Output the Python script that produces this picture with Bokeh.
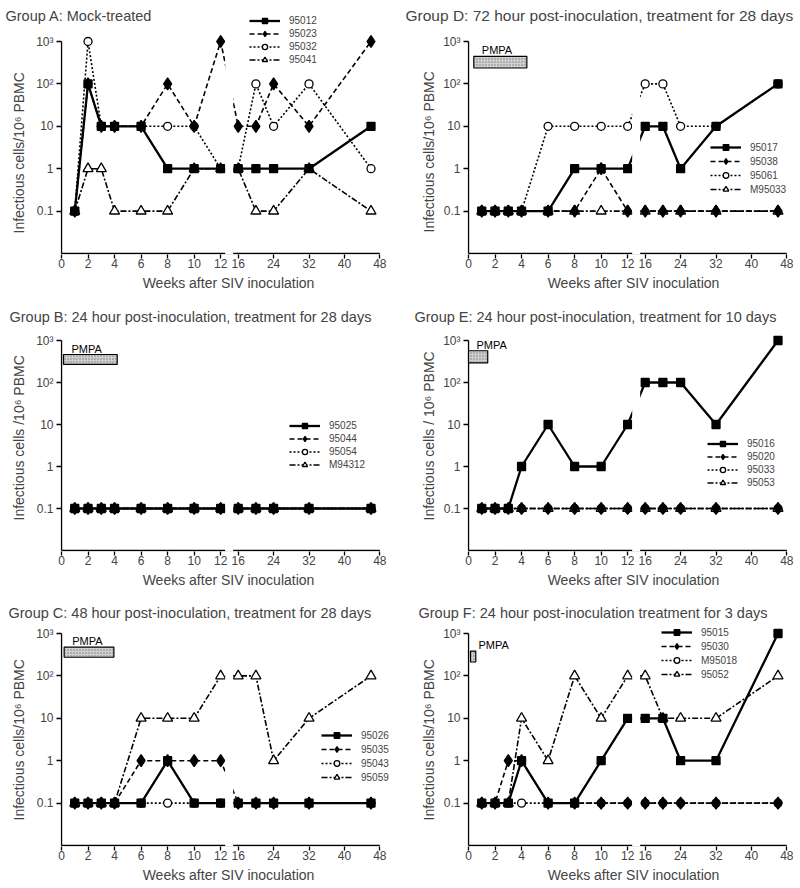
import numpy as np
from bokeh.plotting import figure
from bokeh.layouts import column, row
from bokeh.models import (ColumnDataSource, LinearInterpolator, FixedTicker, Legend,
                          LegendItem, BoxAnnotation, Range1d, Title)
from bokeh.transform import transform
from bokeh.core.properties import value
from bokeh.embed import file_html
from bokeh.resources import INLINE

# ---------------- data ----------------
WEEKS = [1, 2, 3, 4, 6, 8, 10, 12, 16, 20, 24, 32, 46]
X_TICKS = [0, 2, 4, 6, 8, 10, 12, 16, 24, 32, 40, 48]
Y_TICKS = [0.1, 1, 10, 100, 1000]
Y_TICK_LABELS = ["0.1", "1", "10", "10²", "10³"]
X_LABEL = "Weeks after SIV inoculation"

A_TITLE = "Group A: Mock-treated"
A_YLABEL = "Infectious cells/10⁶ PBMC"
A_IDS = ["95012", "95023", "95032", "95041"]
A_S1 = [0.1, 100, 10, 10, 10, 1, 1, 1, 1, 1, 1, 1, 10]
A_S2 = [0.1, 100, 10, 10, 10, 100, 10, 1000, 10, 10, 100, 10, 1000]
A_S3 = [0.1, 1000, 10, 10, 10, 10, 10, 1, 1, 100, 10, 100, 1]
A_S4 = [0.1, 1, 1, 0.1, 0.1, 0.1, 1, 1, 1, 0.1, 0.1, 1, 0.1]

B_TITLE = "Group B: 24 hour post-inoculation, treatment for 28 days"
B_YLABEL = "Infectious cells /10⁶ PBMC"
B_IDS = ["95025", "95044", "95054", "M94312"]
B_S1 = [0.1, 0.1, 0.1, 0.1, 0.1, 0.1, 0.1, 0.1, 0.1, 0.1, 0.1, 0.1, 0.1]
B_S2 = [0.1, 0.1, 0.1, 0.1, 0.1, 0.1, 0.1, 0.1, 0.1, 0.1, 0.1, 0.1, 0.1]
B_S3 = [0.1, 0.1, 0.1, 0.1, 0.1, 0.1, 0.1, 0.1, 0.1, 0.1, 0.1, 0.1, 0.1]
B_S4 = [0.1, 0.1, 0.1, 0.1, 0.1, 0.1, 0.1, 0.1, 0.1, 0.1, 0.1, 0.1, 0.1]
B_PMPA_WEEKS = [0.15, 4.2]
B_PMPA_VALUES = [269, 464]

C_TITLE = "Group C: 48 hour post-inoculation, treatment for 28 days"
C_YLABEL = "Infectious cells/10⁶ PBMC"
C_IDS = ["95026", "95035", "95043", "95059"]
C_S1 = [0.1, 0.1, 0.1, 0.1, 0.1, 1, 0.1, 0.1, 0.1, 0.1, 0.1, 0.1, 0.1]
C_S2 = [0.1, 0.1, 0.1, 0.1, 1, 1, 1, 1, 0.1, 0.1, 0.1, 0.1, 0.1]
C_S3 = [0.1, 0.1, 0.1, 0.1, 0.1, 0.1, 0.1, 0.1, 0.1, 0.1, 0.1, 0.1, 0.1]
C_S4 = [0.1, 0.1, 0.1, 0.1, 10, 10, 10, 100, 100, 100, 1, 10, 100]
C_PMPA_WEEKS = [0.2, 3.95]
C_PMPA_VALUES = [275, 475]

D_TITLE = "Group D: 72 hour post-inoculation, treatment for 28 days"
D_YLABEL = "Infectious cells/10⁶ PBMC"
D_IDS = ["95017", "95038", "95061", "M95033"]
D_S1 = [0.1, 0.1, 0.1, 0.1, 0.1, 1, 1, 1, 10, 10, 1, 10, 100]
D_S2 = [0.1, 0.1, 0.1, 0.1, 0.1, 0.1, 1, 0.1, 0.1, 0.1, 0.1, 0.1, 0.1]
D_S3 = [0.1, 0.1, 0.1, 0.1, 10, 10, 10, 10, 100, 100, 10, 10, 100]
D_S4 = [0.1, 0.1, 0.1, 0.1, 0.1, 0.1, 0.1, 0.1, 0.1, 0.1, 0.1, 0.1, 0.1]
D_PMPA_WEEKS = [0.4, 4.4]
D_PMPA_VALUES = [237, 446]

E_TITLE = "Group E:  24 hour post-inoculation, treatment for 10 days"
E_YLABEL = "Infectious cells / 10⁶ PBMC"
E_IDS = ["95016", "95020", "95033", "95053"]
E_S1 = [0.1, 0.1, 0.1, 1, 10, 1, 1, 10, 100, 100, 100, 10, 1000]
E_S2 = [0.1, 0.1, 0.1, 0.1, 0.1, 0.1, 0.1, 0.1, 0.1, 0.1, 0.1, 0.1, 0.1]
E_S3 = [0.1, 0.1, 0.1, 0.1, 0.1, 0.1, 0.1, 0.1, 0.1, 0.1, 0.1, 0.1, 0.1]
E_S4 = [0.1, 0.1, 0.1, 0.1, 0.1, 0.1, 0.1, 0.1, 0.1, 0.1, 0.1, 0.1, 0.1]
E_PMPA_WEEKS = [0.0, 1.45]
E_PMPA_VALUES = [293, 570]

F_TITLE = "Group F: 24 hour post-inoculation treatment for 3 days"
F_YLABEL = "Infectious cells/10⁶ PBMC"
F_IDS = ["95015", "95030", "M95018", "95052"]
F_S1 = [0.1, 0.1, 0.1, 1, 0.1, 0.1, 1, 10, 10, 10, 1, 1, 1000]
F_S2 = [0.1, 0.1, 1, 1, 0.1, 0.1, 0.1, 0.1, 0.1, 0.1, 0.1, 0.1, 0.1]
F_S3 = [0.1, 0.1, 0.1, 0.1, 0.1, 0.1, 0.1, 0.1, 0.1, 0.1, 0.1, 0.1, 0.1]
F_S4 = [0.1, 0.1, 0.1, 10, 1, 100, 10, 100, 100, 10, 10, 10, 100]
F_PMPA_WEEKS = [0.15, 0.55]
F_PMPA_VALUES = [213, 385]

PMPA_LABEL = "PMPA"

# ---------------- broken-axis scale (weeks -> axis units) ----------------
BREAK_WEEKS = [0, 12, 16, 48]
BREAK_AXIS = [0, 12, 13.32, 24.0]
PX_PER_UNIT = 13.265
GAP = (12.34, 12.94)
GAP_TOP = 1500
AXIS_WEEKS = (0, 48)
AXIS_VALUES = (0.01, 1000)

FONT = "Liberation Sans"

STYLES = [
    dict(marker="square", size=8, fill="black", dash="solid", lw=2.3),
    dict(marker="diamond", size=12, fill="black", dash="5 3", lw=1.6),
    dict(marker="circle", size=8, fill="white", dash="2 2", lw=1.6),
    dict(marker="triangle", size=10, fill="white", dash="6 2 2 2", lw=1.6),
]

# layout per row: figure height, frame top, pixel of 1000, pixel of 0.01
ROW_H = [297, 294, 297]
ROW_FRAME_TOP = [15, 19, 20]
ROW_P1000 = [41, 43, 42]      # relative to the row top
ROW_P001 = [253, 253, 254]
TITLE_STANDOFF = [-17, -16, -18]
COL_BORDER_LEFT = [60, 67]
COL_BORDER_RIGHT = [4, 1]
YLABEL_STANDOFF = [13, 7]


def make_panel(title, title_size, title_offset, ylabel, ylabel_offset, ids, series,
               pmpa_weeks, pmpa_values, col, r, legend_xy, legend_row):
    interp = LinearInterpolator(x=BREAK_WEEKS, y=BREAK_AXIS, clip=False)
    decade = (ROW_P001[r] - ROW_P1000[r]) / 5.0
    y_end = 10 ** (3 + (ROW_P1000[r] - ROW_FRAME_TOP[r]) / decade)
    y_start = 10 ** (-2 - 1.0 / decade)
    frame_bottom = ROW_P001[r] + 1
    border_bottom = ROW_H[r] - frame_bottom
    frame_w = 400 - COL_BORDER_LEFT[col] - COL_BORDER_RIGHT[col]
    x_start = -1.0 / PX_PER_UNIT
    x_end = x_start + frame_w / PX_PER_UNIT

    p = figure(width=400, height=ROW_H[r],
               x_range=Range1d(x_start, x_end),
               y_range=Range1d(y_start, y_end), y_axis_type="log",
               output_backend="svg", toolbar_location=None,
               min_border_left=COL_BORDER_LEFT[col],
               min_border_right=COL_BORDER_RIGHT[col],
               min_border_top=ROW_FRAME_TOP[r], min_border_bottom=border_bottom)
    p.xgrid.visible = False
    p.ygrid.visible = False
    p.outline_line_color = None
    p.background_fill_color = "white"
    p.border_fill_color = "white"

    p.title.text = title
    p.title.text_font = FONT
    p.title.text_font_size = title_size
    p.title.text_font_style = "normal"
    p.title.align = "left"
    p.title.offset = title_offset
    p.title.standoff = TITLE_STANDOFF[r]

    # y label as a side title so that it can be placed freely
    p.add_layout(Title(text=ylabel, align="left", offset=ylabel_offset,
                       standoff=YLABEL_STANDOFF[col], text_font=FONT,
                       text_font_size="14px", text_font_style="normal"), "left")

    # x axis
    tick_pos = [round(float(v), 4) for v in np.interp(X_TICKS, BREAK_WEEKS, BREAK_AXIS)]
    xa = p.xaxis[0]
    xa.ticker = FixedTicker(ticks=tick_pos)
    xa.major_label_overrides = {pos: str(w) for pos, w in zip(tick_pos, X_TICKS)}
    xa.axis_line_color = None
    xa.major_tick_out = 4
    xa.major_tick_in = 0
    xa.major_tick_line_width = 1.3
    xa.minor_tick_line_color = None
    xa.major_label_text_font = FONT
    xa.major_label_text_font_size = "12px"
    xa.major_label_standoff = 0
    xa.axis_label = X_LABEL
    xa.axis_label_text_font = FONT
    xa.axis_label_text_font_size = "14px"
    xa.axis_label_text_font_style = "normal"
    xa.axis_label_standoff = 4

    # y axis
    ya = p.yaxis[0]
    ya.ticker = FixedTicker(ticks=Y_TICKS)
    ya.major_label_overrides = {t: l for t, l in zip(Y_TICKS, Y_TICK_LABELS)}
    ya.axis_line_color = None
    ya.major_tick_out = 4
    ya.major_tick_in = 1
    ya.major_tick_line_width = 1.3
    ya.minor_tick_line_color = None
    ya.major_label_text_font = FONT
    ya.major_label_text_font_size = "12px"
    ya.major_label_standoff = 3

    # drawn axis lines (so that the x axis can be broken)
    axis_src = ColumnDataSource(dict(
        x0=[AXIS_WEEKS[0], AXIS_WEEKS[0]], x1=[AXIS_WEEKS[1], AXIS_WEEKS[0]],
        y0=[AXIS_VALUES[0], AXIS_VALUES[0]], y1=[AXIS_VALUES[0], AXIS_VALUES[1]]))
    p.segment(x0=transform("x0", interp), x1=transform("x1", interp),
              y0="y0", y1="y1", source=axis_src, line_color="black", line_width=1.4)

    # PMPA treatment bar
    if pmpa_weeks is not None:
        bar_src = ColumnDataSource(dict(l=[pmpa_weeks[0]], r=[pmpa_weeks[1]],
                                        b=[pmpa_values[0]], t=[pmpa_values[1]],
                                        label=[PMPA_LABEL]))
        p.quad(left=transform("l", interp), right=transform("r", interp),
               bottom="b", top="t", source=bar_src,
               fill_color="#d0d0d0", line_color="black", line_width=1.2,
               hatch_pattern="dot", hatch_color="#6f6f6f", hatch_scale=3, hatch_alpha=0.9)
        p.text(x=transform("l", interp), y="t", text="label", source=bar_src,
               text_font=value(FONT), text_font_size="11px", text_color="black",
               text_baseline="bottom", x_offset=8, y_offset=0)

    src = ColumnDataSource(dict(w=WEEKS, s0=series[0], s1=series[1],
                                s2=series[2], s3=series[3]))
    line_r = {}
    for i in [3, 2, 1, 0]:
        st = STYLES[i]
        line_r[i] = p.line(x=transform("w", interp), y="s%d" % i, source=src,
                           line_color="black", line_width=st["lw"],
                           line_dash=st["dash"])
    # break gap mask
    p.add_layout(BoxAnnotation(left=GAP[0], right=GAP[1], top=GAP_TOP, fill_color="white",
                               fill_alpha=1.0, line_color=None, level="glyph"))
    mark_r = {}
    for i in [2, 3, 1, 0]:
        st = STYLES[i]
        mark_r[i] = p.scatter(x=transform("w", interp), y="s%d" % i, source=src,
                              marker=st["marker"], size=st["size"],
                              fill_color=st["fill"], line_color="black",
                              line_width=1.3)

    items = [LegendItem(label=ids[i], renderers=[line_r[i], mark_r[i]]) for i in range(4)]
    leg = Legend(items=items, location=legend_xy, padding=0, margin=0, spacing=0,
                 glyph_width=31, glyph_height=legend_row, label_height=legend_row,
                 label_standoff=9, label_text_font=FONT, label_text_font_size="10px",
                 border_line_color=None, background_fill_alpha=0)
    p.add_layout(leg)
    return p


pA = make_panel(A_TITLE, "14.5px", -55, A_YLABEL, 21, A_IDS, [A_S1, A_S2, A_S3, A_S4],
                None, None, 0, 0, (189, 188), 13)
pD = make_panel(D_TITLE, "15.5px", -62, D_YLABEL, 22, D_IDS, [D_S1, D_S2, D_S3, D_S4],
                D_PMPA_WEEKS, D_PMPA_VALUES, 1, 0, (243, 58), 14)
pB = make_panel(B_TITLE, "14.5px", -51, B_YLABEL, 31, B_IDS, [B_S1, B_S2, B_S3, B_S4],
                B_PMPA_WEEKS, B_PMPA_VALUES, 0, 1, (229, 80), 13)
pE = make_panel(E_TITLE, "14.5px", -53, E_YLABEL, 31, E_IDS, [E_S1, E_S2, E_S3, E_S4],
                E_PMPA_WEEKS, E_PMPA_VALUES, 1, 1, (240, 62), 13)
pC = make_panel(C_TITLE, "14.5px", -52, C_YLABEL, 26, C_IDS, [C_S1, C_S2, C_S3, C_S4],
                C_PMPA_WEEKS, C_PMPA_VALUES, 0, 2, (261, 62), 14)
pF = make_panel(F_TITLE, "14.5px", -49, F_YLABEL, 26, F_IDS, [F_S1, F_S2, F_S3, F_S4],
                F_PMPA_WEEKS, F_PMPA_VALUES, 1, 2, (194, 165), 14)

layout = column(row(pA, pD), row(pB, pE), row(pC, pF))

with open("out.html", "w") as f:
    f.write(file_html(layout, INLINE))
